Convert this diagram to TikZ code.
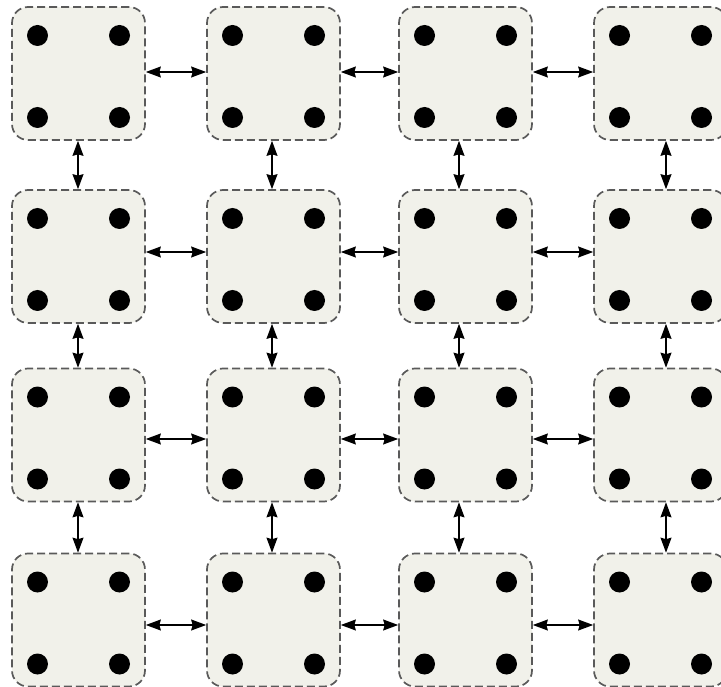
\documentclass[tikz,border=0pt]{standalone}
\usepackage{xcolor}
\usepackage{tikz}
\usetikzlibrary{arrows.meta, positioning}

\definecolor{tilefill}{RGB}{241,241,234}
\definecolor{tileedge}{RGB}{90,90,90}

\begin{document}
\begin{tikzpicture}[
    x=1pt, y=-1pt,
    tile/.style={draw=tileedge, fill=tilefill, rectangle, rounded corners=16pt,
        dash pattern=on 8pt off 4pt, line width=1.7pt,
        minimum width=133pt, minimum height=133pt, inner sep=0pt},
    pin/.style={circle, fill=black, minimum size=21pt, inner sep=0pt},
    link/.style={{Stealth[length=15pt, width=11pt, inset=1.5pt]}-{Stealth[length=15pt, width=11pt, inset=1.5pt]},
        line width=1.2pt}
]
\useasboundingbox (0,0) rectangle (721,687);

% Tiles with four pins each
\foreach \r/\y in {1/73.5, 2/256.5, 3/435, 4/620} {
    \foreach \c/\x in {1/78.5, 2/273.5, 3/465.5, 4/660.5} {
        \node[tile] (t\r\c) at (\x,\y) {};
        \node[pin] (t\r\c-nw) at ([shift={(-41,-38)}]t\r\c.center) {};
        \node[pin] (t\r\c-ne) at ([shift={(41,-38)}]t\r\c.center) {};
        \node[pin] (t\r\c-sw) at ([shift={(-41,44)}]t\r\c.center) {};
        \node[pin] (t\r\c-se) at ([shift={(41,44)}]t\r\c.center) {};
    }
}

% Link lanes
\foreach \r/\y in {1/72, 2/252, 3/439, 4/625}
    \coordinate (h\r) at (0,\y);
\foreach \c/\x in {1/78, 2/272, 3/459, 4/666}
    \coordinate (v\c) at (\x,0);

% Horizontal links
\foreach \r in {1,2,3,4} {
    \draw[link] (t\r1.east |- h\r) -- (t\r2.west |- h\r);
    \draw[link] (t\r2.east |- h\r) -- (t\r3.west |- h\r);
    \draw[link] (t\r3.east |- h\r) -- (t\r4.west |- h\r);
}

% Vertical links
\foreach \c in {1,2,3,4} {
    \draw[link] (t1\c.south -| v\c) -- (t2\c.north -| v\c);
    \draw[link] (t2\c.south -| v\c) -- (t3\c.north -| v\c);
    \draw[link] (t3\c.south -| v\c) -- (t4\c.north -| v\c);
}

\end{tikzpicture}
\end{document}
